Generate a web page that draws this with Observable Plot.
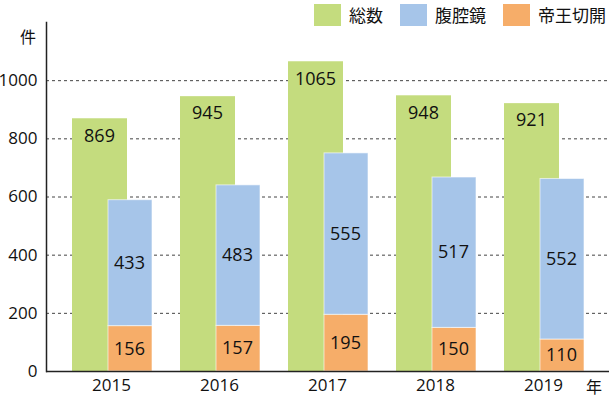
<!DOCTYPE html>
<html>
<head>
<meta charset="utf-8">
<script src="https://cdn.jsdelivr.net/npm/d3@7"></script>
<script src="https://cdn.jsdelivr.net/npm/@observablehq/plot@0.6"></script>
<style>
  html, body { margin: 0; padding: 0; background: #fff; }
  #wrap { position: relative; width: 612px; height: 397px; font-family: 'Open Sans', 'Noto Sans CJK JP', sans-serif; color: #111; }
  #legend { position: absolute; top: 2px; right: 6px; display: flex; align-items: center; font-family: 'Noto Sans CJK JP', sans-serif; font-size: 17px; }
  #legend .item { display: flex; align-items: center; margin-left: 17px; }
  #legend .sw { width: 27px; height: 22px; margin-right: 8px; }
  .unit { position: absolute; font-family: 'Noto Sans CJK JP', sans-serif; font-size: 16px; line-height: 1; white-space: nowrap; }
</style>
</head>
<body>
<div id="wrap"></div>
<script>
const years = ["2015", "2016", "2017", "2018", "2019"];
const seriesNames = ["総数", "腹腔鏡", "帝王切開"];
const seriesColors = ["#c4dc7e", "#a6c5e9", "#f6ad69"];
const total = [869, 945, 1065, 948, 921];
const laparoscopy = [433, 483, 555, 517, 552];
const cesarean = [156, 157, 195, 150, 110];
const yTicks = [0, 200, 400, 600, 800, 1000];
const yUnit = "件";
const xUnit = "年";

const totalData = years.map((year, i) => ({year, series: seriesNames[0], value: total[i]}));
const stacked = years.flatMap((year, i) => [
  {year, series: seriesNames[2], value: cesarean[i]},
  {year, series: seriesNames[1], value: laparoscopy[i]}
]);

const chart = Plot.plot({
  width: 612,
  height: 397,
  marginTop: 22,
  marginBottom: 26,
  marginLeft: 46,
  marginRight: 3,
  style: {fontFamily: "'Open Sans','Noto Sans CJK JP',sans-serif", fontSize: "17px", color: "#111", background: "#fff"},
  x: {domain: years, range: [55, 599], padding: 0, label: null},
  y: {domain: [0, 1200], label: null},
  color: {domain: seriesNames, range: seriesColors},
  marks: [
    Plot.ruleY(yTicks.filter(d => d > 0), {stroke: "#444", strokeWidth: 1, strokeDasharray: "3,3"}),
    Plot.barY(totalData, {x: "year", y: "value", fill: "series", insetLeft: 15, insetRight: 38}),
    Plot.barY(stacked, {x: "year", y: "value", fill: "series", insetLeft: 51, insetRight: 13, stroke: "#fff", strokeOpacity: 0.6, strokeWidth: 1}),
    Plot.text(totalData, {x: "year", y: "value", text: d => String(d.value), dy: 17, dx: -12, fontSize: 18, fill: "#111"}),
    Plot.text(stacked, Plot.stackY({x: "year", y: "value", text: d => String(d.value), dx: 18, fontSize: 18, fill: "#111"})),
    Plot.ruleY([0], {stroke: "#222", strokeWidth: 1.5}),
    Plot.frame({anchor: "left", stroke: "#222", strokeWidth: 1.5}),
    Plot.axisX({tickSize: 0, tickPadding: 7, fontSize: 17, label: null}),
    Plot.axisY({ticks: yTicks, tickFormat: d3.format("d"), tickSize: 0, tickPadding: 9, fontSize: 17, label: null})
  ]
});

const wrap = document.getElementById("wrap");
wrap.appendChild(chart);

const legend = document.createElement("div");
legend.id = "legend";
seriesNames.forEach((name, i) => {
  const item = document.createElement("div");
  item.className = "item";
  const sw = document.createElement("span");
  sw.className = "sw";
  sw.style.background = seriesColors[i];
  const label = document.createElement("span");
  label.textContent = name;
  item.appendChild(sw);
  item.appendChild(label);
  legend.appendChild(item);
});
wrap.appendChild(legend);

const yu = document.createElement("div");
yu.className = "unit";
yu.textContent = yUnit;
yu.style.left = "20px";
yu.style.top = "28px";
wrap.appendChild(yu);

const xu = document.createElement("div");
xu.className = "unit";
xu.textContent = xUnit;
xu.style.left = "586px";
xu.style.top = "378px";
wrap.appendChild(xu);
</script>
</body>
</html>
